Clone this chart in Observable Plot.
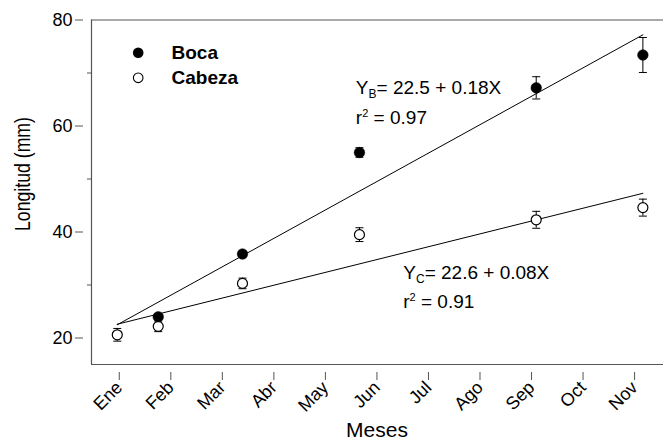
<!DOCTYPE html>
<html>
<head>
<meta charset="utf-8">
<script src="https://cdn.jsdelivr.net/npm/d3@7"></script>
<script src="https://cdn.jsdelivr.net/npm/@observablehq/plot@0.6"></script>
<style>
  body { margin: 0; background: #fff; }
</style>
</head>
<body>
<div id="chart"></div>
<script>
// ---- data ----
const months = ["Ene", "Feb", "Mar", "Abr", "May", "Jun", "Jul", "Ago", "Sep", "Oct", "Nov"];
const monthTicks = [0, 1, 2, 3, 4, 5, 6, 7, 8, 9, 10];
const yMajorTicks = [20, 40, 60, 80];
const yMinorTicks = [30, 50, 70];

const bocaX = [0.795, 2.43, 4.70, 8.13, 10.2];
const bocaY = [24.0, 35.85, 55.0, 67.2, 73.4];
const bocaErr = [0.4, 0.4, 0.9, 2.1, 3.3];

const cabezaX = [0, 0.795, 2.43, 4.70, 8.13, 10.2];
const cabezaY = [20.6, 22.2, 30.3, 39.5, 42.3, 44.6];
const cabezaErr = [1.2, 1.0, 1.0, 1.3, 1.6, 1.6];

const fitX = [0, 10.2];
const bocaFit = [22.5, 77.2];
const cabezaFit = [22.6, 47.3];

const seriesNames = ["Boca", "Cabeza"];
const eqSub = ["B", "C"];
const eqText = ["22.5 + 0.18X", "22.6 + 0.08X"];
const eqR2 = ["0.97", "0.91"];
const xTitle = "Meses";
const yTitle = "Longitud (mm)";

// ---- tables ----
const boca = bocaX.map((x, i) => ({x, y: bocaY[i], lo: bocaY[i] - bocaErr[i], hi: bocaY[i] + bocaErr[i]}));
const cabeza = cabezaX.map((x, i) => ({x, y: cabezaY[i], lo: cabezaY[i] - cabezaErr[i], hi: cabezaY[i] + cabezaErr[i]}));
const bocaLine = fitX.map((x, i) => ({x, y: bocaFit[i]}));
const cabezaLine = fitX.map((x, i) => ({x, y: cabezaFit[i]}));
const allPts = boca.concat(cabeza);

const FONT = "'Liberation Sans', Arial, Helvetica, sans-serif";
const AXIS = "#555";

const capSymbol = {
  draw(ctx, size) {
    const r = Math.sqrt(size / Math.PI);
    ctx.moveTo(-r, 0);
    ctx.lineTo(r, 0);
  }
};

const plot = Plot.plot({
  width: 663,
  height: 442,
  marginLeft: 91,
  marginRight: 0,
  marginTop: 19.5,
  marginBottom: 78,
  x: {domain: [-0.5, 10.6]},
  y: {domain: [15, 80]},
  style: {fontFamily: FONT, color: "#000", background: "#fff", overflow: "visible"},
  marks: [
    Plot.axisY({ticks: yMajorTicks, tickSize: 8, tickPadding: 3, dx: -8, fontSize: 18, label: null, stroke: AXIS, fill: "#000"}),
    Plot.axisY({ticks: yMinorTicks, tickSize: 4, tickFormat: () => "", label: null, stroke: AXIS}),
    Plot.axisX({ticks: monthTicks, tickFormat: i => months[i], tickSize: 8, tickPadding: 4, tickRotate: -45, dx: 2, dy: 8, fontSize: 18, label: null, stroke: AXIS, fill: "#000"}),
    Plot.ruleX([-0.5], {stroke: AXIS, strokeWidth: 1.2}),
    Plot.ruleY([15, 80], {stroke: AXIS, strokeWidth: 1.2}),
    // regression lines
    Plot.line(bocaLine, {x: "x", y: "y", stroke: "#000", strokeWidth: 1}),
    Plot.line(cabezaLine, {x: "x", y: "y", stroke: "#000", strokeWidth: 1}),
    // error bars
    Plot.ruleX(allPts, {x: "x", y1: "lo", y2: "hi", stroke: "#000", strokeWidth: 1}),
    Plot.dot(allPts, {x: "x", y: "hi", symbol: capSymbol, r: 4, fill: "none", stroke: "#000", strokeWidth: 1}),
    Plot.dot(allPts, {x: "x", y: "lo", symbol: capSymbol, r: 4, fill: "none", stroke: "#000", strokeWidth: 1}),
    // points
    Plot.dot(cabeza, {x: "x", y: "y", r: 5, fill: "#fff", stroke: "#000", strokeWidth: 1.2}),
    Plot.dot(boca, {x: "x", y: "y", r: 5.3, fill: "#000", stroke: "#000", strokeWidth: 0.5}),
    // legend
    Plot.dot([seriesNames[0]], {x: null, y: null, frameAnchor: "top-left", dx: 46.7, dy: 32.8, r: 5.3, fill: "#000"}),
    Plot.dot([seriesNames[1]], {x: null, y: null, frameAnchor: "top-left", dx: 46.7, dy: 57.8, r: 4.8, fill: "#fff", stroke: "#000", strokeWidth: 1.1}),
    Plot.text([seriesNames[0]], {x: null, y: null, frameAnchor: "top-left", dx: 80, dy: 33, textAnchor: "start", lineAnchor: "middle", fontWeight: "bold", fontSize: 19, fill: "#000"}),
    Plot.text([seriesNames[1]], {x: null, y: null, frameAnchor: "top-left", dx: 80, dy: 58, textAnchor: "start", lineAnchor: "middle", fontWeight: "bold", fontSize: 19, fill: "#000"})
  ]
});

document.getElementById("chart").appendChild(plot);

const sx = plot.scale("x"), sy = plot.scale("y");
const svg = d3.select(plot);

// axis titles
svg.append("text")
  .attr("font-family", FONT).attr("font-size", 21).attr("fill", "#000")
  .attr("text-anchor", "middle")
  .attr("x", (91 + 663) / 2).attr("y", 437)
  .text(xTitle);
svg.append("text")
  .attr("font-family", FONT).attr("font-size", 22).attr("fill", "#000")
  .attr("text-anchor", "middle")
  .attr("textLength", 114).attr("lengthAdjust", "spacingAndGlyphs")
  .attr("transform", "translate(30,174) rotate(-90)")
  .text(yTitle);

// equation annotations (anchored in data coordinates via the plot's scales)
const eqAnchors = [
  {x: 4.64, y: 65.98, y2: 60.2},
  {x: 5.56, y: 31.08, y2: 25.55}
];
const g = svg.append("g").attr("font-family", FONT).attr("font-size", 19).attr("fill", "#000").attr("text-anchor", "start");
eqAnchors.forEach((a, i) => {
  const t = g.append("text").attr("x", sx.apply(a.x)).attr("y", sy.apply(a.y));
  t.append("tspan").text("Y");
  t.append("tspan").attr("font-size", 12).attr("dy", 4.5).text(eqSub[i]);
  t.append("tspan").attr("dy", -4.5).text("= " + eqText[i]);
  const t2 = g.append("text").attr("x", sx.apply(a.x)).attr("y", sy.apply(a.y2));
  t2.append("tspan").text("r");
  t2.append("tspan").attr("font-size", 11).attr("dy", -7).text("2");
  t2.append("tspan").attr("dy", 7).text(" = " + eqR2[i]);
});
</script>
</body>
</html>
